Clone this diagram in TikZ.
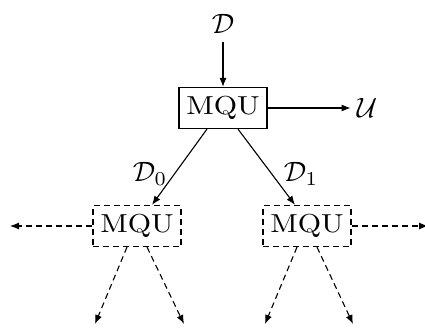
\documentclass[tikz,border=0pt]{standalone}
\usetikzlibrary{arrows.meta}
\newcommand{\mqutext}{\scalebox{3.0}[2.6]{MQU}}
\newcommand{\biglbl}[1]{\scalebox{2.8}{$#1$}}
\begin{document}
\begin{tikzpicture}[x=1pt,y=-1pt,
  mqubox/.style={draw,line width=1.2pt,minimum width=88pt,minimum height=41pt,inner sep=0pt},
  dashbox/.style={mqubox,dash pattern=on 6pt off 4pt},
  conn/.style={line width=1.1pt,-{Latex[length=9pt,width=7pt]}},
  dconn/.style={conn,dash pattern=on 6pt off 4pt},
  lbl/.style={inner sep=0pt}]
\useasboundingbox (0,0) rectangle (425,327);
\node[lbl] (D) at (223,24) {\biglbl{\mathcal{D}}};
\node[mqubox] (top) at (223,108) {\mqutext};
\node[lbl] (U) at (367,108) {\biglbl{\mathcal{U}}};
\node[dashbox] (left) at (137,226) {\mqutext};
\node[dashbox] (right) at (307,226) {\mqutext};
\node[lbl] (D0) at (150,174) {\biglbl{\mathcal{D}_0}};
\node[lbl] (D1) at (301,174) {\biglbl{\mathcal{D}_1}};
\coordinate (lout) at (10,226);
\coordinate (rout) at (428,226);
\coordinate (ll) at (95,324);
\coordinate (lr) at (184,324);
\coordinate (rl) at (265,324);
\coordinate (rr) at (353,324);
\draw[conn] (223,42) -- (top.north);
\draw[conn] (top.east) -- ([xshift=-6pt]top.east -| U.west);
\draw[conn] ([xshift=-16pt]top.south) -- ([xshift=15pt]left.north);
\draw[conn] ([xshift=15pt]top.south) -- ([xshift=-12pt]right.north);
\draw[dconn] (left.west) -- (lout);
\draw[dconn] (right.east) -- (rout);
\draw[dconn] ([xshift=-10pt]left.south) -- (ll);
\draw[dconn] ([xshift=10pt]left.south) -- (lr);
\draw[dconn] ([xshift=-10pt]right.south) -- (rl);
\draw[dconn] ([xshift=10pt]right.south) -- (rr);
\end{tikzpicture}
\end{document}
